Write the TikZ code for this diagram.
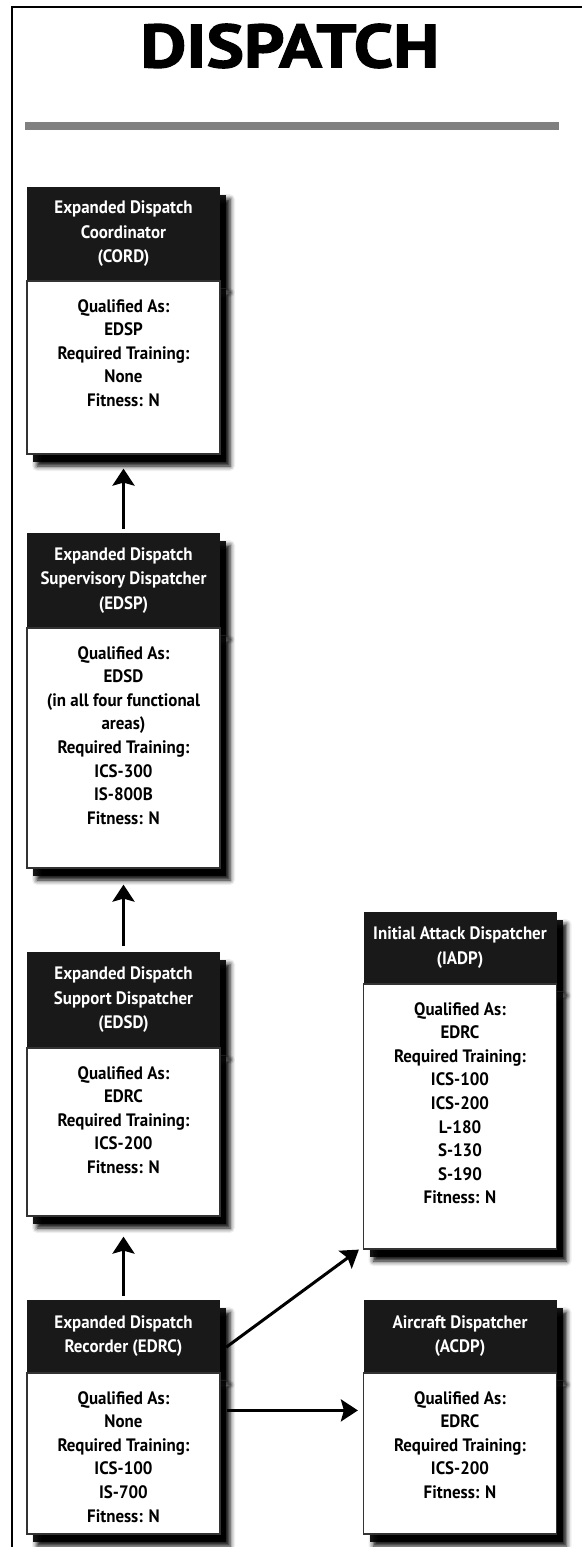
\documentclass[tikz,border=0pt]{standalone}
\usepackage{fontspec}
\setmainfont{PT Sans}[FakeStretch=0.94]
\newfontfamily\titlefont{PT Sans}[FakeStretch=1.16, FakeBold=2]
\usetikzlibrary{positioning, arrows.meta, shadows, shadows.blur}
\tikzset{
	x=1pt, y=-1pt, % one unit is one pixel of the page, y grows downwards
	>={Stealth[length=17pt, width=22pt, inset=3pt]}, % big arrow heads
	shade/.style={blur shadow={shadow xshift=10pt, shadow yshift=-12pt, shadow blur radius=5pt, shadow opacity=100},
		drop shadow={shadow xshift=6pt, shadow yshift=-8pt, fill=black, opacity=.9}}, % dark soft shadow
	head/.style={shade, fill=black!90, text=white, anchor=north, minimum width=193pt, align=center, inner sep=0pt, font=\fontsize{18}{24.5}\selectfont\bfseries}, % black title part of a box
	body/.style={shade, draw=black!80, line width=1.2pt, fill=white, minimum width=193pt, inner sep=0pt, font=\fontsize{18}{23.6}\selectfont\bfseries}, % white part below it
	arr/.style={->, line width=3pt}, % connectors
}
\begin{document}
\begin{tikzpicture}
	\useasboundingbox (0,0) rectangle (582,1547);
	% frame, title and bar
	\draw[line width=2pt] (582,7) -- (12,7) -- (12,1547);
	\node[font=\titlefont\bfseries\fontsize{61}{61}\selectfont] (title) at (290,46) {DISPATCH};
	\draw[line width=8pt, black!50] (25,126) -- (559,126);

	% left column
	\node[head, minimum height=93pt] (cordhead) at (123.5,187) {Expanded Dispatch\\Coordinator\\(CORD)};
	\node[body, below=0pt of cordhead] (cord) {\parbox[c][173pt][t]{190pt}{\centering\rule{0pt}{31pt}Qualified As:\\EDSP\\Required Training:\\None\\Fitness: N}};

	\node[head, minimum height=94pt] (edsphead) at (123.5,533) {Expanded Dispatch\\Supervisory Dispatcher\\(EDSP)};
	\node[body, below=0pt of edsphead] (edsp) {\parbox[c][240pt][t]{190pt}{\centering\rule{0pt}{31pt}Qualified As:\\EDSD\\(in all four functional\\areas)\\Required Training:\\ICS-300\\IS-800B\\Fitness: N}};

	\node[head, minimum height=95pt] (edsdhead) at (123.5,952) {Expanded Dispatch\\Support Dispatcher\\(EDSD)};
	\node[body, below=0pt of edsdhead] (edsd) {\parbox[c][168pt][t]{190pt}{\centering\rule{0pt}{31pt}Qualified As:\\EDRC\\Required Training:\\ICS-200\\Fitness: N}};

	\node[head, minimum height=72pt] (edrchead) at (123.5,1300) {Expanded Dispatch\\Recorder (EDRC)};
	\node[body, below=0pt of edrchead] (edrc) {\parbox[c][161pt][t]{190pt}{\centering\rule{0pt}{31pt}Qualified As:\\None\\Required Training:\\ICS-100\\IS-700\\Fitness: N}};

	% right column
	\node[head, minimum height=71pt] (iadphead) at (460,912) {Initial Attack Dispatcher\\(IADP)};
	\node[body, below=0pt of iadphead] (iadp) {\parbox[c][265pt][t]{190pt}{\centering\rule{0pt}{31pt}Qualified As:\\EDRC\\Required Training:\\ICS-100\\ICS-200\\L-180\\S-130\\S-190\\Fitness: N}};

	\node[head, minimum height=72pt] (acdphead) at (460,1300) {Aircraft Dispatcher\\(ACDP)};
	\node[body, below=0pt of acdphead] (acdp) {\parbox[c][161pt][t]{190pt}{\centering\rule{0pt}{31pt}Qualified As:\\EDRC\\Required Training:\\ICS-200\\Fitness: N}};

	% connectors
	\draw[arr, shorten <=4pt, shorten >=14pt] (edsphead.north) -- (cord.south);
	\draw[arr, shorten <=6pt, shorten >=16pt] (edsdhead.north) -- (edsp.south);
	\draw[arr, shorten <=4pt, shorten >=20pt] (edrchead.north) -- (edsd.south);
	\draw[arr] ([shift={(6pt,-11pt)}]edrchead.east) -- ([xshift=-4pt]iadp.south west);
	\draw[arr] ([shift={(6pt,-38pt)}]edrc.north east) -- ([shift={(-5pt,-38pt)}]acdp.north west);
\end{tikzpicture}
\end{document}
